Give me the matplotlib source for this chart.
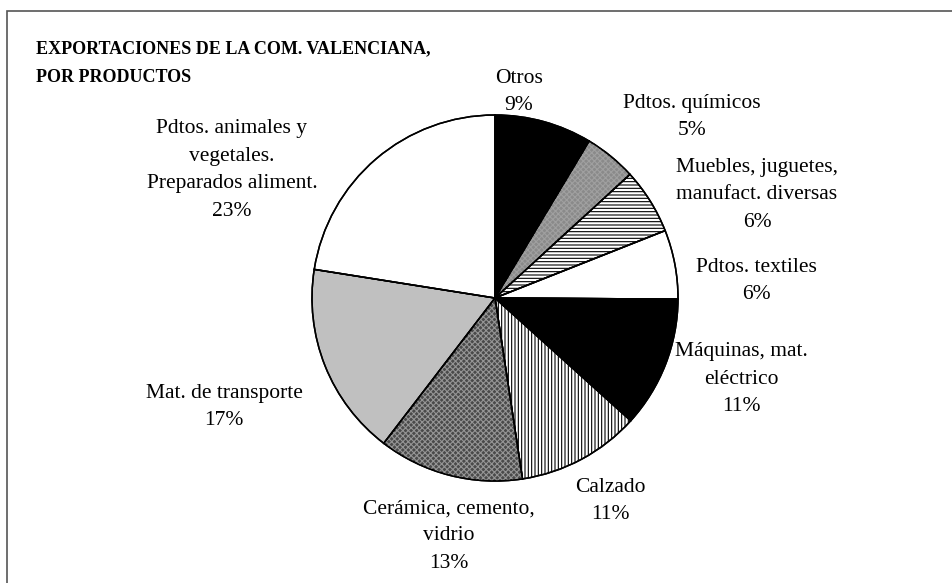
# -*- coding: utf-8 -*-
import matplotlib
matplotlib.use('Agg')
import matplotlib.pyplot as plt
from matplotlib.patches import Rectangle

plt.rcParams['font.family'] = ['Liberation Serif', 'DejaVu Serif']
plt.rcParams['hatch.linewidth'] = 0.8

# Data (clockwise from the top)
categories = ['Otros', 'Pdtos. químicos', 'Muebles, juguetes,\nmanufact. diversas',
              'Pdtos. textiles', 'Máquinas, mat.\neléctrico', 'Calzado',
              'Cerámica, cemento,\nvidrio', 'Mat. de transporte',
              'Pdtos. animales y\nvegetales.\nPreparados aliment.']
shares = [8.6, 4.6, 5.8, 6.1, 11.6, 10.9, 12.8, 17.1, 22.5]
pct_labels = ['9%', '5%', '6%', '6%', '11%', '11%', '13%', '17%', '23%']

face = ['black', '#8a8a8a', 'white', 'white', 'black', 'white', '#4a4a4a', '#c0c0c0', 'white']
hatches = [None, None, '-----', None, None, '|||||', None, None, None]
# fine checker texture overlay for the two gray slices
overlay = [None, 'xxxxxx', None, None, None, None, 'xxxxxx', None, None]
overlay_col = [None, '#a0a0a0', None, None, None, None, '#959595', None, None]

# label block centres in pixels
label_pos = [(519, 92), (692, 117), (757, 195), (756, 281), (741, 379),
             (610, 501), (449, 536), (224, 407), (232, 170)]

W, H = 952, 583
fig = plt.figure(figsize=(W / 100, H / 100), dpi=100)

# outer frame
fig.patches.append(Rectangle((7 / W, -0.1), 1.2, 1 - 11 / H + 0.1, transform=fig.transFigure,
                             fill=False, edgecolor='#555555', linewidth=1.2))

cx, cy, r = 495, 298, 183
ax = fig.add_axes([(cx - r) / W, (H - cy - r) / H, 2 * r / W, 2 * r / H])
wedges, _ = ax.pie(shares, startangle=90, counterclock=False, radius=1,
                   colors=face, wedgeprops=dict(edgecolor='black', linewidth=1.1))
for w, h in zip(wedges, hatches):
    if h:
        w.set_hatch(h)

# texture overlay
ov, _ = ax.pie(shares, startangle=90, counterclock=False, radius=1,
               wedgeprops=dict(fill=False, linewidth=0))
for w, h, c in zip(ov, overlay, overlay_col):
    if h:
        w.set_hatch(h)
        w.set_edgecolor(c)
    else:
        w.set_visible(False)

# redraw edges on top
edges, _ = ax.pie(shares, startangle=90, counterclock=False, radius=1,
                  wedgeprops=dict(fill=False, edgecolor='black', linewidth=1.1))
ax.set_xlim(-1, 1)
ax.set_ylim(-1, 1)
ax.set_aspect('auto')
ax.axis('off')

for name, pct, (x, y) in zip(categories, pct_labels, label_pos):
    fig.text(x / W, 1 - y / H, name + '\n' + pct, ha='center', va='center',
             ma='center', fontsize=15.5, linespacing=1.6)

fig.text(36 / W, 1 - 63 / H, 'EXPORTACIONES DE LA COM. VALENCIANA,\nPOR PRODUCTOS',
         ha='left', va='center', fontsize=13, fontweight='bold', linespacing=1.95)

fig.savefig('out.png', dpi=100)
